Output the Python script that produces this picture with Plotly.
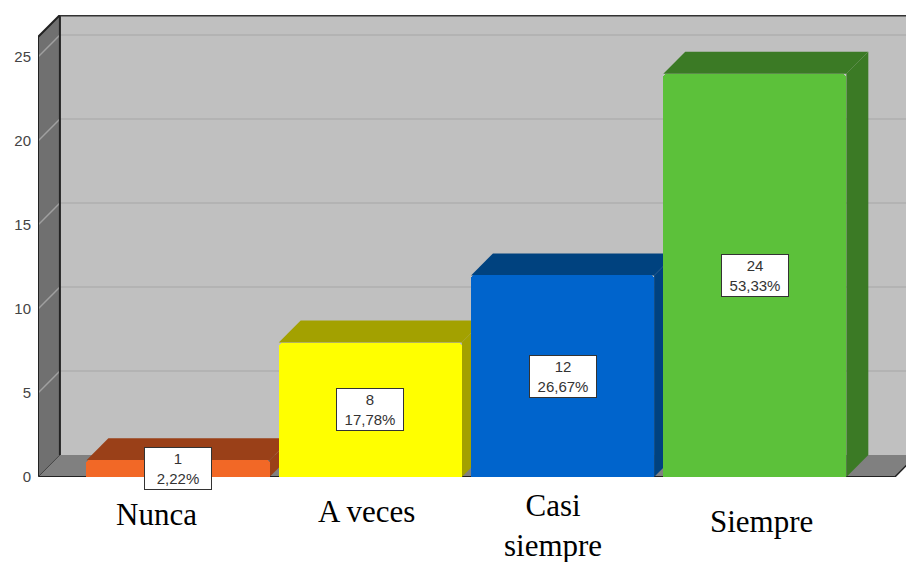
import plotly.graph_objects as go

# ---- data ----
categories = ["Nunca", "A veces", "Casi<br>siempre", "Siempre"]
counts = [1, 8, 12, 24]
pct_labels = ["2,22%", "17,78%", "26,67%", "53,33%"]
y_ticks = [0, 5, 10, 15, 20, 25]

front_colors = ["#F26826", "#FFFF00", "#0064CC", "#5CC13A"]
depth_colors = ["#9A4018", "#A3A100", "#00427F", "#3B7A25"]

# ---- geometry (axis units) ----
X0, X1 = -0.728, 3.786      # x range
Y1 = 27.5                   # y range top
DX, DY = 0.114, 1.31        # 3-D depth offset
BW = 0.952                  # bar width
FLOOR_R = 3.728             # front right edge of floor

fig = go.Figure()

xs = list(range(len(counts)))
fig.add_trace(go.Bar(
    x=xs, y=counts, width=BW,
    marker=dict(color=front_colors, line=dict(width=0), cornerradius=4),
    hoverinfo="skip", showlegend=False,
))

shapes = []
def poly(pts, fill, line_color=None, lw=0):
    path = "M " + " L ".join(f"{x},{y}" for x, y in pts) + " Z"
    shapes.append(dict(type="path", path=path, xref="x", yref="y", layer="below",
                       fillcolor=fill,
                       line=dict(color=line_color or fill, width=lw)))

def seg(xa, ya, xb, yb, color, w):
    shapes.append(dict(type="line", x0=xa, y0=ya, x1=xb, y1=yb, xref="x", yref="y",
                       layer="below", line=dict(color=color, width=w)))

# back wall
poly([(X0 + DX, DY), (X1 + 0.3, DY), (X1 + 0.3, Y1), (X0 + DX, Y1)], "#C0C0C0")
# floor
poly([(X0, 0), (FLOOR_R, 0), (FLOOR_R + DX, DY), (X0 + DX, DY)], "#808080")
# left wall
poly([(X0, 0), (X0 + DX, DY), (X0 + DX, Y1), (X0, Y1 - DY)], "#707070")
# gridlines
for v in y_ticks[1:]:
    seg(X0 + DX, v + DY, X1 + 0.3, v + DY, "#AFAFAF", 1.5)
    seg(X0, v, X0 + DX, v + DY, "#A0A0A0", 1.5)
# wall / floor edges
seg(X0, 0, FLOOR_R, 0, "#222222", 2)
seg(FLOOR_R, 0, FLOOR_R + DX, DY, "#222222", 1.5)
seg(X0, 0, X0, Y1 - DY, "#222222", 2)
seg(X0, Y1 - DY, X0 + DX, Y1, "#222222", 2)
seg(X0 + DX, DY, X0 + DX, Y1, "#222222", 2)
seg(X0 + DX, Y1, X1 + 0.3, Y1, "#333333", 3)
seg(X0, 0, X0 + DX, DY, "#444444", 1)

# 3-D faces of bars (top + right side)
for i, v in enumerate(counts):
    xa, xb = i - BW / 2, i + BW / 2
    c = depth_colors[i]
    poly([(xb, 0), (xb, v), (xb + DX, v + DY), (xb + DX, DY)], c)
    poly([(xa, v), (xa + DX, v + DY), (xb + DX, v + DY), (xb, v)], c)

annotations = []
for i, v in enumerate(counts):
    annotations.append(dict(
        x=i, y=v / 2, xref="x", yref="y", showarrow=False,
        text=f"{v}<br>{pct_labels[i]}",
        font=dict(family="Arial, Liberation Sans", size=15, color="#333333"),
        bgcolor="white", bordercolor="#333333", borderwidth=1, borderpad=2,
        width=62,
    ))

label_shift = [(-21, 0), (-4, 0), (-10, 0), (7, 0)]
label_y = [514, 511, 525, 521]
for i, c in enumerate(categories):
    annotations.append(dict(
        x=i, xref="x", y=(562 - label_y[i] - 85) / 462, yref="paper",
        yanchor="middle", xanchor="center", showarrow=False,
        xshift=label_shift[i][0], text=c,
        font=dict(family="Liberation Serif, Times New Roman, serif", size=31, color="black"),
    ))

fig.update_layout(
    width=906, height=562,
    margin=dict(l=38, r=0, t=15, b=85),
    paper_bgcolor="white", plot_bgcolor="white",
    shapes=shapes, annotations=annotations,
    bargap=0,
    xaxis=dict(range=[X0, X1], showgrid=False, zeroline=False, showticklabels=False,
               showline=False, fixedrange=True),
    yaxis=dict(range=[0, Y1], showgrid=False, zeroline=False, tickvals=y_ticks,
               ticks="", ticklabelstandoff=6, showline=False,
               tickfont=dict(family="Arial, Liberation Sans", size=15, color="#444444")),
)

fig.write_html("out.html")
